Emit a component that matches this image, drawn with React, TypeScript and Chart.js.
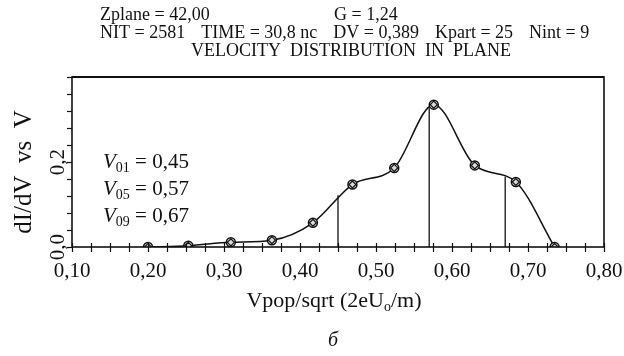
import React, { useEffect, useRef } from "react";
import { Chart, registerables } from "chart.js";

Chart.register(...registerables);

// ---- data ----
const velocities = [0.20, 0.253, 0.309, 0.363, 0.417, 0.469, 0.524, 0.576, 0.630, 0.684, 0.735];
const dIdV = [0.0, 0.003, 0.011, 0.016, 0.057, 0.147, 0.186, 0.335, 0.192, 0.153, 0.0];

const markerV = [0.45, 0.57, 0.67];
const markerTop = [0.122, 0.329, 0.166];
const markerNames = ["01", "05", "09"];
const markerLabels = ["0,45", "0,57", "0,67"];

const xTickValues = [0.1, 0.2, 0.3, 0.4, 0.5, 0.6, 0.7, 0.8];
const xTickLabels = ["0,10", "0,20", "0,30", "0,40", "0,50", "0,60", "0,70", "0,80"];
const xMinorStep = 0.025;
const yTickValues = [0.0, 0.2];
const yTickLabels = ["0,0", "0,2"];
const yMinorStep = 0.04;

const headerLine1 = ["Zplane = 42,00", "G = 1,24"];
const headerLine2 = ["NIT = 2581", "TIME = 30,8 nc", "DV = 0,389", "Kpart = 25", "Nint = 9"];
const plotTitle = "VELOCITY  DISTRIBUTION  IN  PLANE";
const yTitle = "dI/dV  vs  V";
const xTitleParts = ["Vpop/sqrt (2eU", "o", "/m)"];
const caption = "б";

const SERIF = '"Liberation Serif", "Times New Roman", serif';

const decorPlugin = {
  id: "decor",
  afterDraw(chart: any) {
    const ctx: CanvasRenderingContext2D = chart.ctx;
    const xs = chart.scales.x;
    const ys = chart.scales.y;
    const { left, right, top, bottom } = chart.chartArea;
    ctx.save();
    ctx.fillStyle = "#111";
    ctx.strokeStyle = "#111";

    // frame
    ctx.lineWidth = 1.6;
    ctx.strokeRect(left, top, right - left, bottom - top);
    ctx.lineWidth = 2.2;
    ctx.beginPath();
    ctx.moveTo(left, top);
    ctx.lineTo(right, top);
    ctx.stroke();

    // x minor ticks
    ctx.lineWidth = 1.2;
    for (let v = xs.min; v <= xs.max + 1e-9; v += xMinorStep) {
      const px = Math.round(xs.getPixelForValue(v)) + 0.5;
      ctx.beginPath();
      ctx.moveTo(px, bottom - 4);
      ctx.lineTo(px, bottom + 5);
      ctx.stroke();
    }
    // y minor ticks
    for (let v = ys.min; v <= ys.max + 1e-9; v += yMinorStep) {
      const py = Math.round(ys.getPixelForValue(v)) + 0.5;
      ctx.beginPath();
      ctx.moveTo(left - 5, py);
      ctx.lineTo(left, py);
      ctx.stroke();
    }

    // x tick labels
    ctx.font = `21px ${SERIF}`;
    ctx.textAlign = "center";
    ctx.textBaseline = "alphabetic";
    xTickValues.forEach((v, i) => {
      ctx.fillText(xTickLabels[i], xs.getPixelForValue(v), bottom + 30);
    });

    // y tick labels (rotated)
    yTickValues.forEach((v, i) => {
      ctx.save();
      ctx.translate(left - 8, ys.getPixelForValue(v));
      ctx.rotate(-Math.PI / 2);
      ctx.textAlign = "center";
      ctx.textBaseline = "alphabetic";
      ctx.font = `21px ${SERIF}`;
      ctx.fillText(yTickLabels[i], 0, 0);
      ctx.restore();
    });

    // y title
    ctx.save();
    ctx.translate(31, 172);
    ctx.rotate(-Math.PI / 2);
    ctx.textAlign = "center";
    ctx.font = `25px ${SERIF}`;
    ctx.fillText(yTitle, 0, 0);
    ctx.restore();

    // x title with subscript
    ctx.textAlign = "left";
    ctx.font = `22px ${SERIF}`;
    const w0 = ctx.measureText(xTitleParts[0]).width;
    ctx.font = `14px ${SERIF}`;
    const w1 = ctx.measureText(xTitleParts[1]).width;
    ctx.font = `22px ${SERIF}`;
    const w2 = ctx.measureText(xTitleParts[2]).width;
    let tx = 334 - (w0 + w1 + w2) / 2;
    const ty = 307;
    ctx.fillText(xTitleParts[0], tx, ty);
    tx += w0;
    ctx.font = `14px ${SERIF}`;
    ctx.fillText(xTitleParts[1], tx, ty + 4);
    tx += w1;
    ctx.font = `22px ${SERIF}`;
    ctx.fillText(xTitleParts[2], tx, ty);

    // caption
    ctx.font = `italic 20px ${SERIF}`;
    ctx.textAlign = "center";
    ctx.fillText(caption, 333, 346);

    // header
    ctx.textAlign = "left";
    ctx.font = `18px ${SERIF}`;
    ctx.fillText(headerLine1[0], 100, 20);
    ctx.fillText(headerLine1[1], 334, 20);
    const gap = 16;
    let hx = 100;
    headerLine2.forEach((s) => {
      ctx.fillText(s, hx, 38);
      hx += ctx.measureText(s).width + gap;
    });
    ctx.textAlign = "center";
    ctx.font = `18px ${SERIF}`;
    ctx.fillText(plotTitle, 351, 56);

    // annotations V01 etc
    const baseY = [168, 195, 222];
    markerNames.forEach((n, i) => {
      let ax = 103;
      ctx.textAlign = "left";
      ctx.font = `italic 21px ${SERIF}`;
      ctx.fillText("V", ax, baseY[i]);
      ax += ctx.measureText("V").width;
      ctx.font = `14px ${SERIF}`;
      ctx.fillText(n, ax, baseY[i] + 4);
      ax += ctx.measureText(n).width;
      ctx.font = `21px ${SERIF}`;
      ctx.fillText(" = " + markerLabels[i], ax, baseY[i]);
    });

    ctx.restore();
  },
};

export default function App() {
  const ref = useRef<HTMLCanvasElement | null>(null);
  useEffect(() => {
    if (!ref.current) return;
    const curve = velocities.map((v, i) => ({ x: v, y: dIdV[i] }));
    const vlineSets = markerV.map((v, i) => ({
      type: "line" as const,
      data: [
        { x: v, y: 0 },
        { x: v, y: markerTop[i] },
      ],
      borderColor: "#111",
      borderWidth: 1.3,
      pointRadius: 0,
      tension: 0,
      order: 3,
    }));
    const chart = new Chart(ref.current, {
      type: "line",
      data: {
        datasets: [
          {
            data: curve,
            borderColor: "#111",
            borderWidth: 1.5,
            cubicInterpolationMode: "monotone",
            pointStyle: "circle",
            pointRadius: 4.5,
            pointBorderWidth: 1.5,
            pointBackgroundColor: "#dcdcdc",
            pointBorderColor: "#111",
            order: 2,
          } as any,
          {
            data: curve,
            showLine: false,
            pointStyle: "rectRot",
            pointRadius: 3.5,
            pointBorderWidth: 1.2,
            pointBackgroundColor: "rgba(0,0,0,0)",
            pointBorderColor: "#111",
            order: 1,
          } as any,
          ...(vlineSets as any[]),
        ],
      },
      options: {
        animation: false,
        responsive: false,
        events: [],
        layout: { padding: { top: 77, right: 20, left: 0, bottom: 0 } },
        plugins: { legend: { display: false }, tooltip: { enabled: false } },
        scales: {
          x: {
            type: "linear",
            min: 0.1,
            max: 0.8,
            grid: { display: false },
            border: { display: false },
            ticks: { display: false },
            afterFit: (s: any) => {
              s.height = 109;
            },
          },
          y: {
            type: "linear",
            min: 0,
            max: 0.4,
            grid: { display: false },
            border: { display: false },
            ticks: { display: false },
            afterFit: (s: any) => {
              s.width = 72;
            },
          },
        },
      },
      plugins: [decorPlugin],
    });
    return () => chart.destroy();
  }, []);
  return (
    <div style={{ position: "absolute", left: 0, top: 0, width: 624, height: 356, background: "#fff" }}>
      <canvas ref={ref} width={624} height={356} style={{ width: 624, height: 356 }} />
    </div>
  );
}
